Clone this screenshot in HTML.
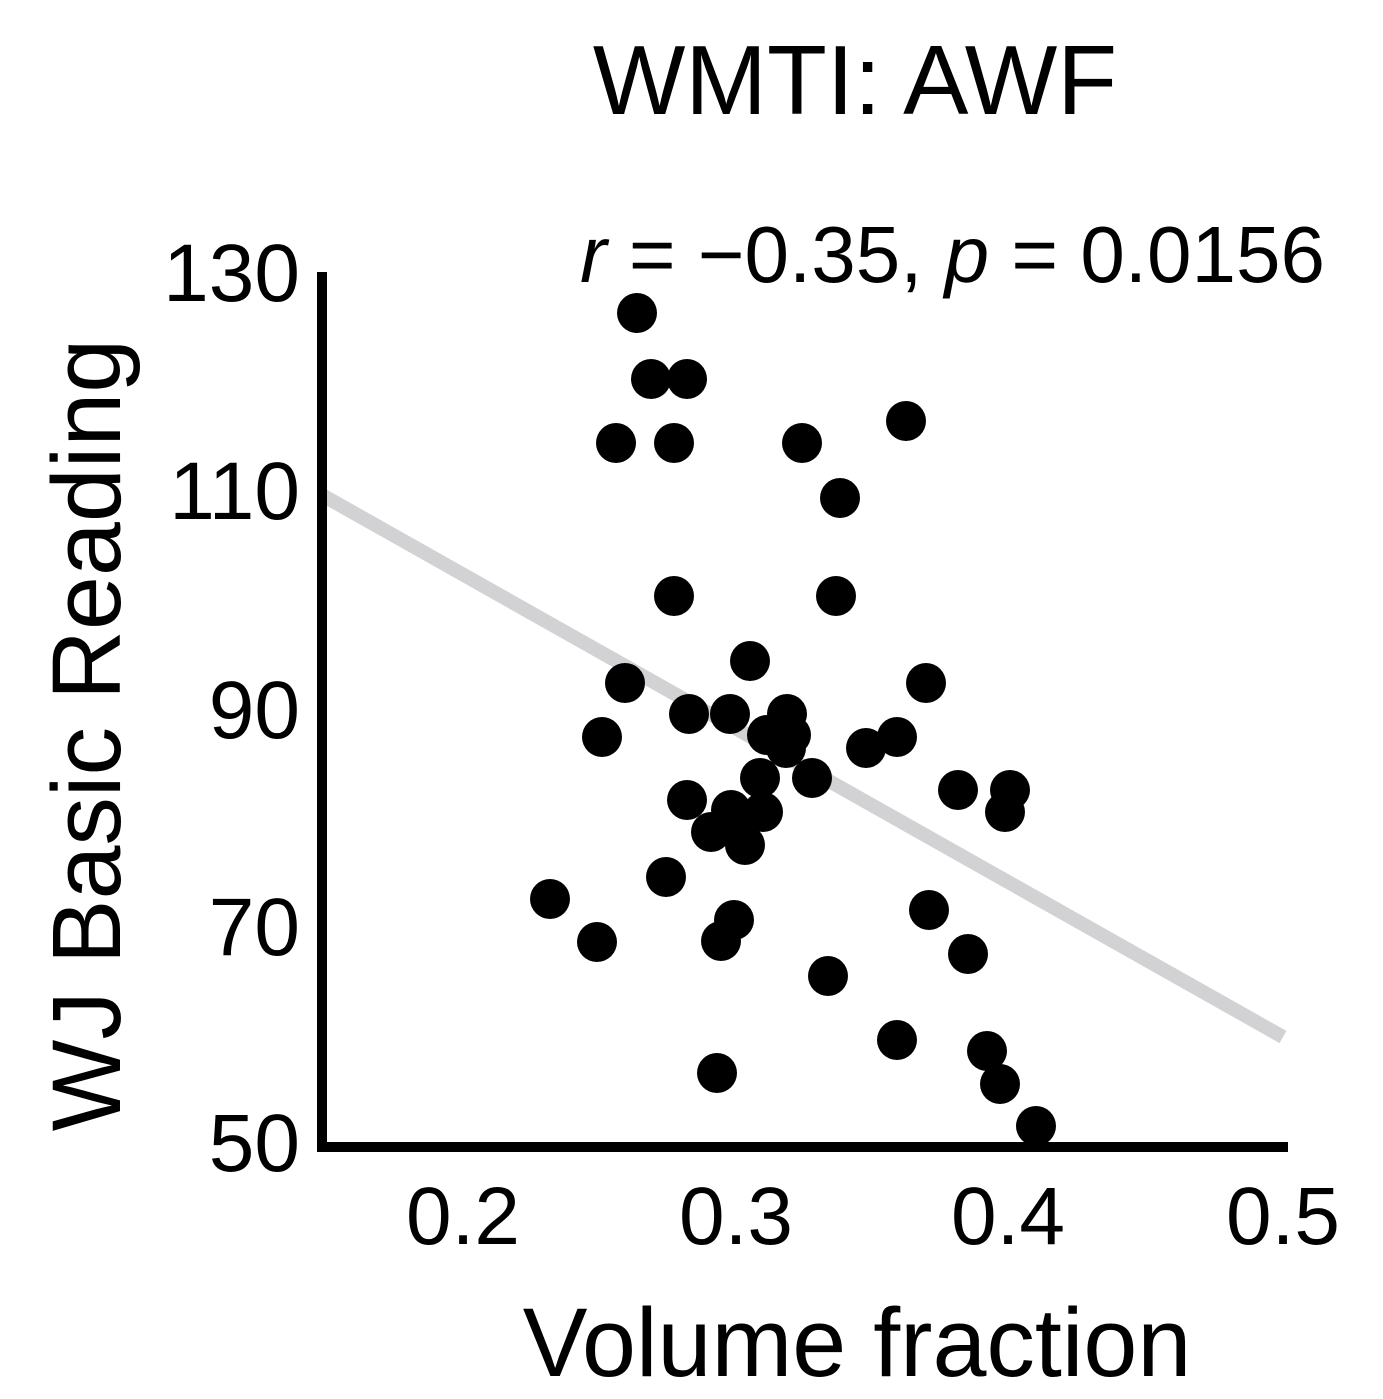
<!DOCTYPE html>
<html><head><style>html,body{margin:0;padding:0;background:#fff}</style></head>
<body>
<svg width="1383" height="1394" xmlns="http://www.w3.org/2000/svg" font-family="Liberation Sans, Arial, sans-serif">
<rect width="1383" height="1394" fill="#fff"/>
<text x="855" y="114" font-size="98" text-anchor="middle">WMTI: AWF</text>
<text x="1325" y="282" font-size="80" text-anchor="end"><tspan font-style="italic">r</tspan> = −0.35, <tspan font-style="italic">p</tspan> = 0.0156</text>
<line x1="322" y1="495" x2="1283" y2="1037" stroke="#d2d2d4" stroke-width="14"/>
<line x1="322" y1="272" x2="322" y2="1152" stroke="#000" stroke-width="10"/>
<line x1="318" y1="1147" x2="1288" y2="1147" stroke="#000" stroke-width="10"/>
<g font-size="82" text-anchor="end">
<text x="300" y="301">130</text>
<text x="300" y="519">110</text>
<text x="300" y="738">90</text>
<text x="300" y="955">70</text>
<text x="300" y="1171">50</text>
</g>
<g font-size="82" text-anchor="middle">
<text x="463" y="1244">0.2</text>
<text x="736" y="1244">0.3</text>
<text x="1008" y="1244">0.4</text>
<text x="1283" y="1244">0.5</text>
</g>
<text x="857" y="1376" font-size="97" text-anchor="middle">Volume fraction</text>
<text transform="translate(120,735) rotate(-90)" font-size="97" text-anchor="middle">WJ Basic Reading</text>
<g fill="#000">
<circle cx="637" cy="313" r="20"/><circle cx="651" cy="379" r="20"/><circle cx="687" cy="379" r="20"/>
<circle cx="616" cy="443" r="20"/><circle cx="674" cy="443" r="20"/><circle cx="802" cy="443" r="20"/>
<circle cx="906" cy="421" r="20"/><circle cx="840" cy="498" r="20"/><circle cx="674" cy="596" r="20"/>
<circle cx="836" cy="596" r="20"/><circle cx="750" cy="661" r="20"/><circle cx="625" cy="683" r="20"/>
<circle cx="926" cy="683" r="20"/><circle cx="689" cy="714" r="20"/><circle cx="730" cy="714" r="20"/>
<circle cx="787" cy="714" r="20"/><circle cx="767" cy="735" r="20"/><circle cx="791" cy="735" r="20"/>
<circle cx="602" cy="737" r="20"/><circle cx="866" cy="748" r="20"/><circle cx="897" cy="737" r="20"/>
<circle cx="786" cy="748" r="20"/><circle cx="760" cy="778" r="20"/><circle cx="812" cy="778" r="20"/>
<circle cx="958" cy="790" r="20"/><circle cx="1010" cy="790" r="20"/><circle cx="1005" cy="812" r="20"/>
<circle cx="687" cy="800" r="20"/><circle cx="731" cy="810" r="20"/><circle cx="763" cy="812" r="20"/>
<circle cx="711" cy="832" r="20"/><circle cx="745" cy="845" r="20"/><circle cx="736" cy="825" r="20"/>
<circle cx="666" cy="877" r="20"/><circle cx="550" cy="899" r="20"/><circle cx="929" cy="910" r="20"/>
<circle cx="734" cy="920" r="20"/><circle cx="721" cy="941" r="20"/><circle cx="597" cy="942" r="20"/>
<circle cx="968" cy="954" r="20"/><circle cx="828" cy="976" r="20"/><circle cx="897" cy="1040" r="20"/>
<circle cx="987" cy="1051" r="20"/><circle cx="1000" cy="1084" r="20"/><circle cx="717" cy="1073" r="20"/>
<circle cx="1036" cy="1126" r="20"/>
</g>
</svg>
</body></html>
